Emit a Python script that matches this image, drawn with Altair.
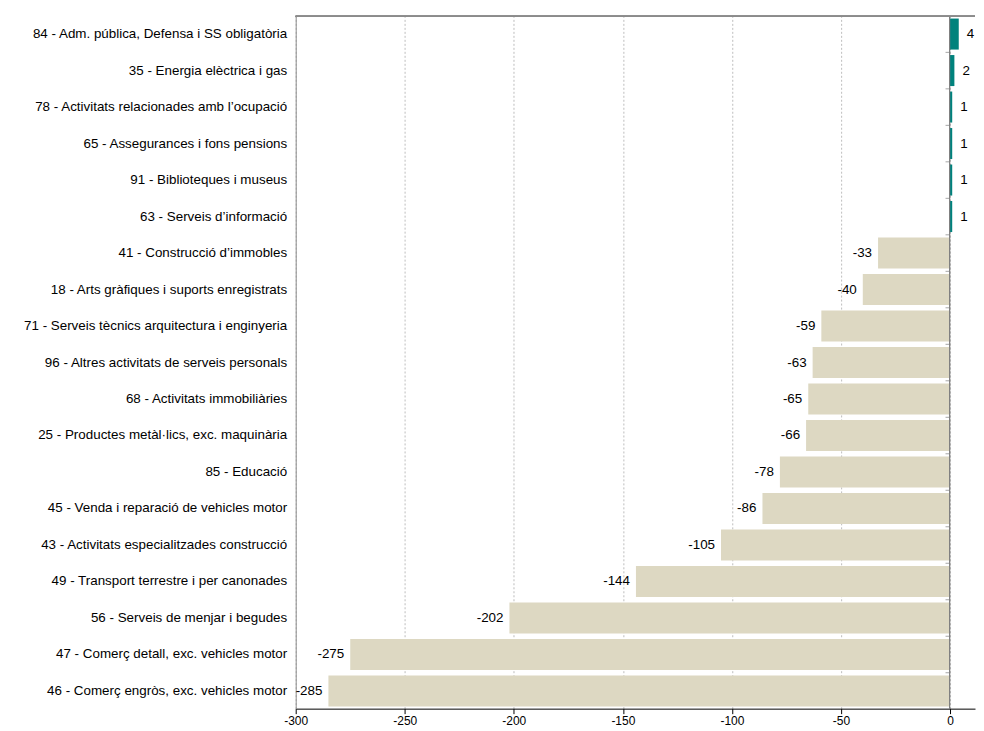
import altair as alt
import pandas as pd

categories = [
    "84 - Adm. pública, Defensa i SS obligatòria",
    "35 - Energia elèctrica i gas",
    "78 - Activitats  relacionades amb l’ocupació",
    "65 - Assegurances i  fons pensions",
    "91 - Biblioteques i museus",
    "63 - Serveis d’informació",
    "41 - Construcció d’immobles",
    "18 - Arts gràfiques i suports enregistrats",
    "71 - Serveis tècnics arquitectura i enginyeria",
    "96 - Altres activitats de serveis personals",
    "68 - Activitats immobiliàries",
    "25 - Productes metàl·lics, exc. maquinària",
    "85 - Educació",
    "45 - Venda i reparació de vehicles motor",
    "43 - Activitats especialitzades construcció",
    "49 - Transport terrestre i per canonades",
    "56 - Serveis de menjar i begudes",
    "47 - Comerç detall, exc. vehicles motor",
    "46 - Comerç engròs, exc. vehicles motor",
]
values = [4, 2, 1, 1, 1, 1, -33, -40, -59, -63, -65, -66, -78, -86, -105, -144, -202, -275, -285]
x_ticks = [-300, -250, -200, -150, -100, -50, 0]

df = pd.DataFrame({"cat": categories, "val": values})
df["sign"] = ["pos" if v > 0 else "neg" for v in values]
df["lbl"] = [str(v) for v in values]

FONT = "Liberation Sans"
PLOT_W = 680
PLOT_H = 693

yscale = alt.Scale(domain=categories, paddingInner=0.15, paddingOuter=0.06)
xscale = alt.Scale(domain=[-300, 11.45], nice=False, zero=False)

base = alt.Chart(df)
Y = alt.Y("cat:N", scale=yscale, sort=categories,
          axis=alt.Axis(title=None, ticks=False, domainColor="#8c8c8c", labelFont=FONT,
                        labelFontSize=13.4, labelColor="#000000", labelPadding=9,
                        labelLimit=400, minExtent=288, maxExtent=288, grid=False))
X = alt.X("val:Q", scale=xscale,
          axis=alt.Axis(values=x_ticks, title=None, grid=True, gridDash=[2, 2],
                        gridColor="#bdbdbd", domainColor="#000000", tickColor="#000000",
                        tickSize=5, labelFont=FONT, labelFontSize=12, labelColor="#000000",
                        labelPadding=2, labelFlush=False, labelExpr="toString(datum.value)"))

bars = base.mark_bar().encode(
    x=X, y=Y,
    color=alt.Color("sign:N", scale=alt.Scale(domain=["pos", "neg"], range=["#00827c", "#ddd8c2"]),
                    legend=None),
)

neg_text = base.transform_filter("datum.val < 0").mark_text(
    align="right", baseline="middle", dx=-6, font=FONT, fontSize=13.4, color="#000000"
).encode(x=X, y=Y, text="lbl:N")

pos_text = base.transform_filter("datum.val > 0").mark_text(
    align="left", baseline="middle", dx=8, font=FONT, fontSize=13.4, color="#000000"
).encode(x=X, y=Y, text="lbl:N")

zero_line = base.mark_rule(color="#7f7f7f", strokeWidth=1, xOffset=-0.5).encode(
    x=alt.datum(0), y=alt.value(0), y2=alt.value(PLOT_H)
)

top_line = base.mark_rule(color="#8c8c8c", strokeWidth=1).encode(
    x=alt.value(0), x2=alt.value(PLOT_W), y=alt.value(0)
)

zero_ticks = base.transform_filter("datum.val < 4").mark_tick(
    orient="horizontal", color="#7f7f7f", size=4, thickness=1, xOffset=-2.5, yOffset=-2.7
).encode(x=alt.datum(0), y=alt.Y("cat:N", scale=yscale, sort=categories, bandPosition=0))

chart = alt.layer(bars, neg_text, pos_text, zero_line, top_line, zero_ticks).properties(
    width=PLOT_W,
    height=PLOT_H,
    padding={"left": 0, "top": 7, "right": 0, "bottom": 0},
).configure_view(stroke=None)

chart.save("out.html", embed_options={"renderer": "svg", "actions": False})
